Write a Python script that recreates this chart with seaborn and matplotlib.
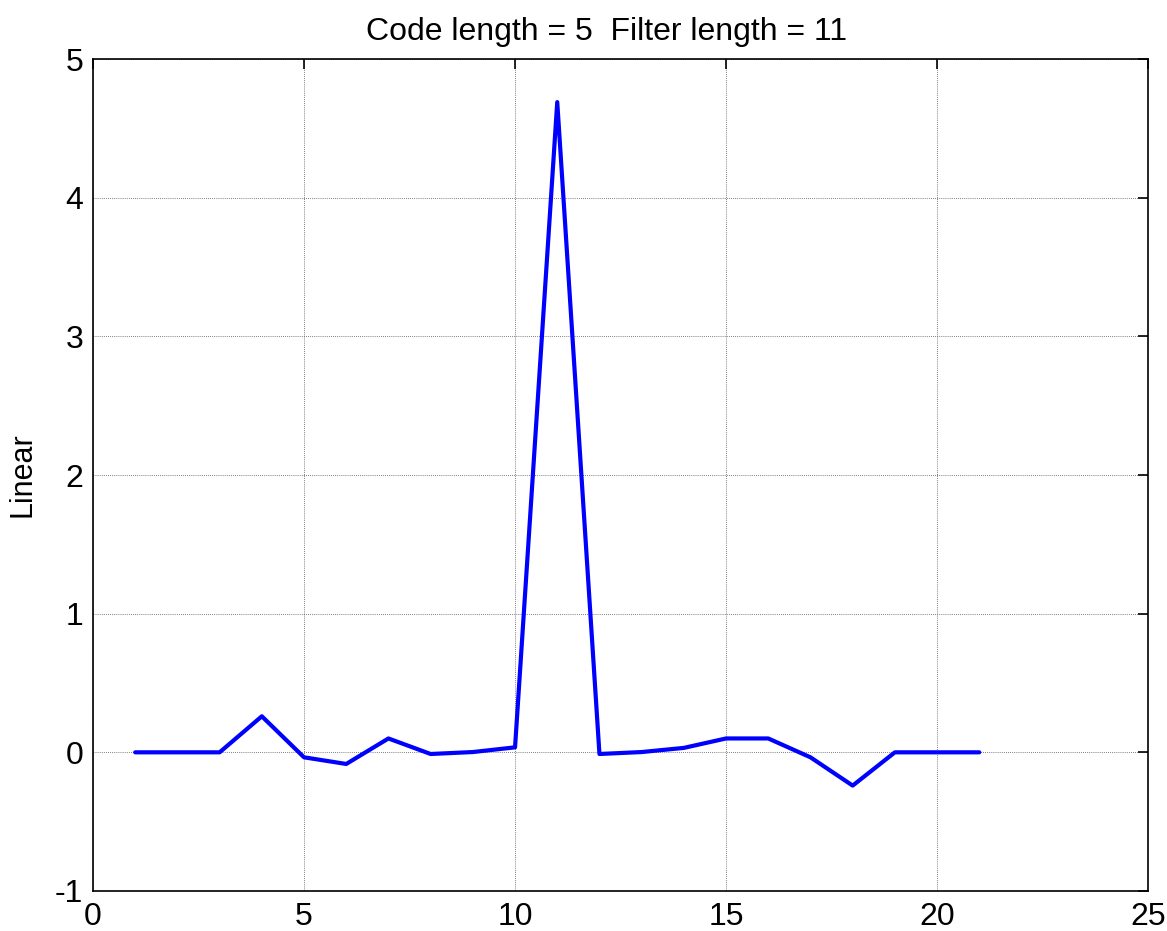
import matplotlib
matplotlib.use("Agg")
import matplotlib.pyplot as plt
import seaborn as sns
import pandas as pd

x_vals = [1, 2, 3, 4, 5, 6, 7, 8, 9, 10, 11, 12, 13, 14, 15, 16, 17, 18, 19, 20, 21]
y_vals = [0.0, 0.0, 0.0, 0.26, -0.036, -0.084, 0.10, -0.012, 0.002, 0.036, 4.69,
          -0.012, 0.002, 0.032, 0.10, 0.10, -0.036, -0.24, 0.0, 0.0, 0.0]
x_ticks = [0, 5, 10, 15, 20, 25]
y_ticks = [-1, 0, 1, 2, 3, 4, 5]
title_text = "Code length = 5  Filter length = 11"
ylabel_text = "Linear"

sns.set_style("white")
plt.rcParams['font.family'] = ['Liberation Sans', 'DejaVu Sans']
plt.rcParams['text.color'] = 'black'
plt.rcParams['axes.labelcolor'] = 'black'

df = pd.DataFrame({"x": x_vals, "y": y_vals})

fig = plt.figure(figsize=(11.67, 9.31), dpi=100)
ax = fig.add_axes([0.0797, 0.0430, 0.9041, 0.8935])

sns.lineplot(data=df, x="x", y="y", ax=ax, color="#0000ff", linewidth=3.0)

ax.set_xlim(0, 25)
ax.set_ylim(-1, 5)
ax.set_xticks(x_ticks)
ax.set_yticks(y_ticks)
ax.set_xticklabels([str(t) for t in x_ticks])
ax.set_yticklabels([str(t) for t in y_ticks])
ax.grid(True, linestyle=(0, (1, 1.5)), color="#555555", linewidth=0.6)
ax.tick_params(direction="in", length=7, width=1.2, top=True, right=True,
               labelsize=23, colors="black")
ax.tick_params(axis="x", pad=8)
ax.tick_params(axis="y", pad=7)
for s in ax.spines.values():
    s.set_visible(True)
    s.set_color("black")
    s.set_linewidth(1.2)

ax.set_xlabel("")
ax.set_ylabel(ylabel_text, fontsize=22, color="black")
ax.yaxis.set_label_coords(-0.0528, 0.5)
ax.set_title(title_text, fontsize=23, pad=14, color="black", x=0.4864)

fig.savefig("out.png", dpi=100, facecolor="white")
